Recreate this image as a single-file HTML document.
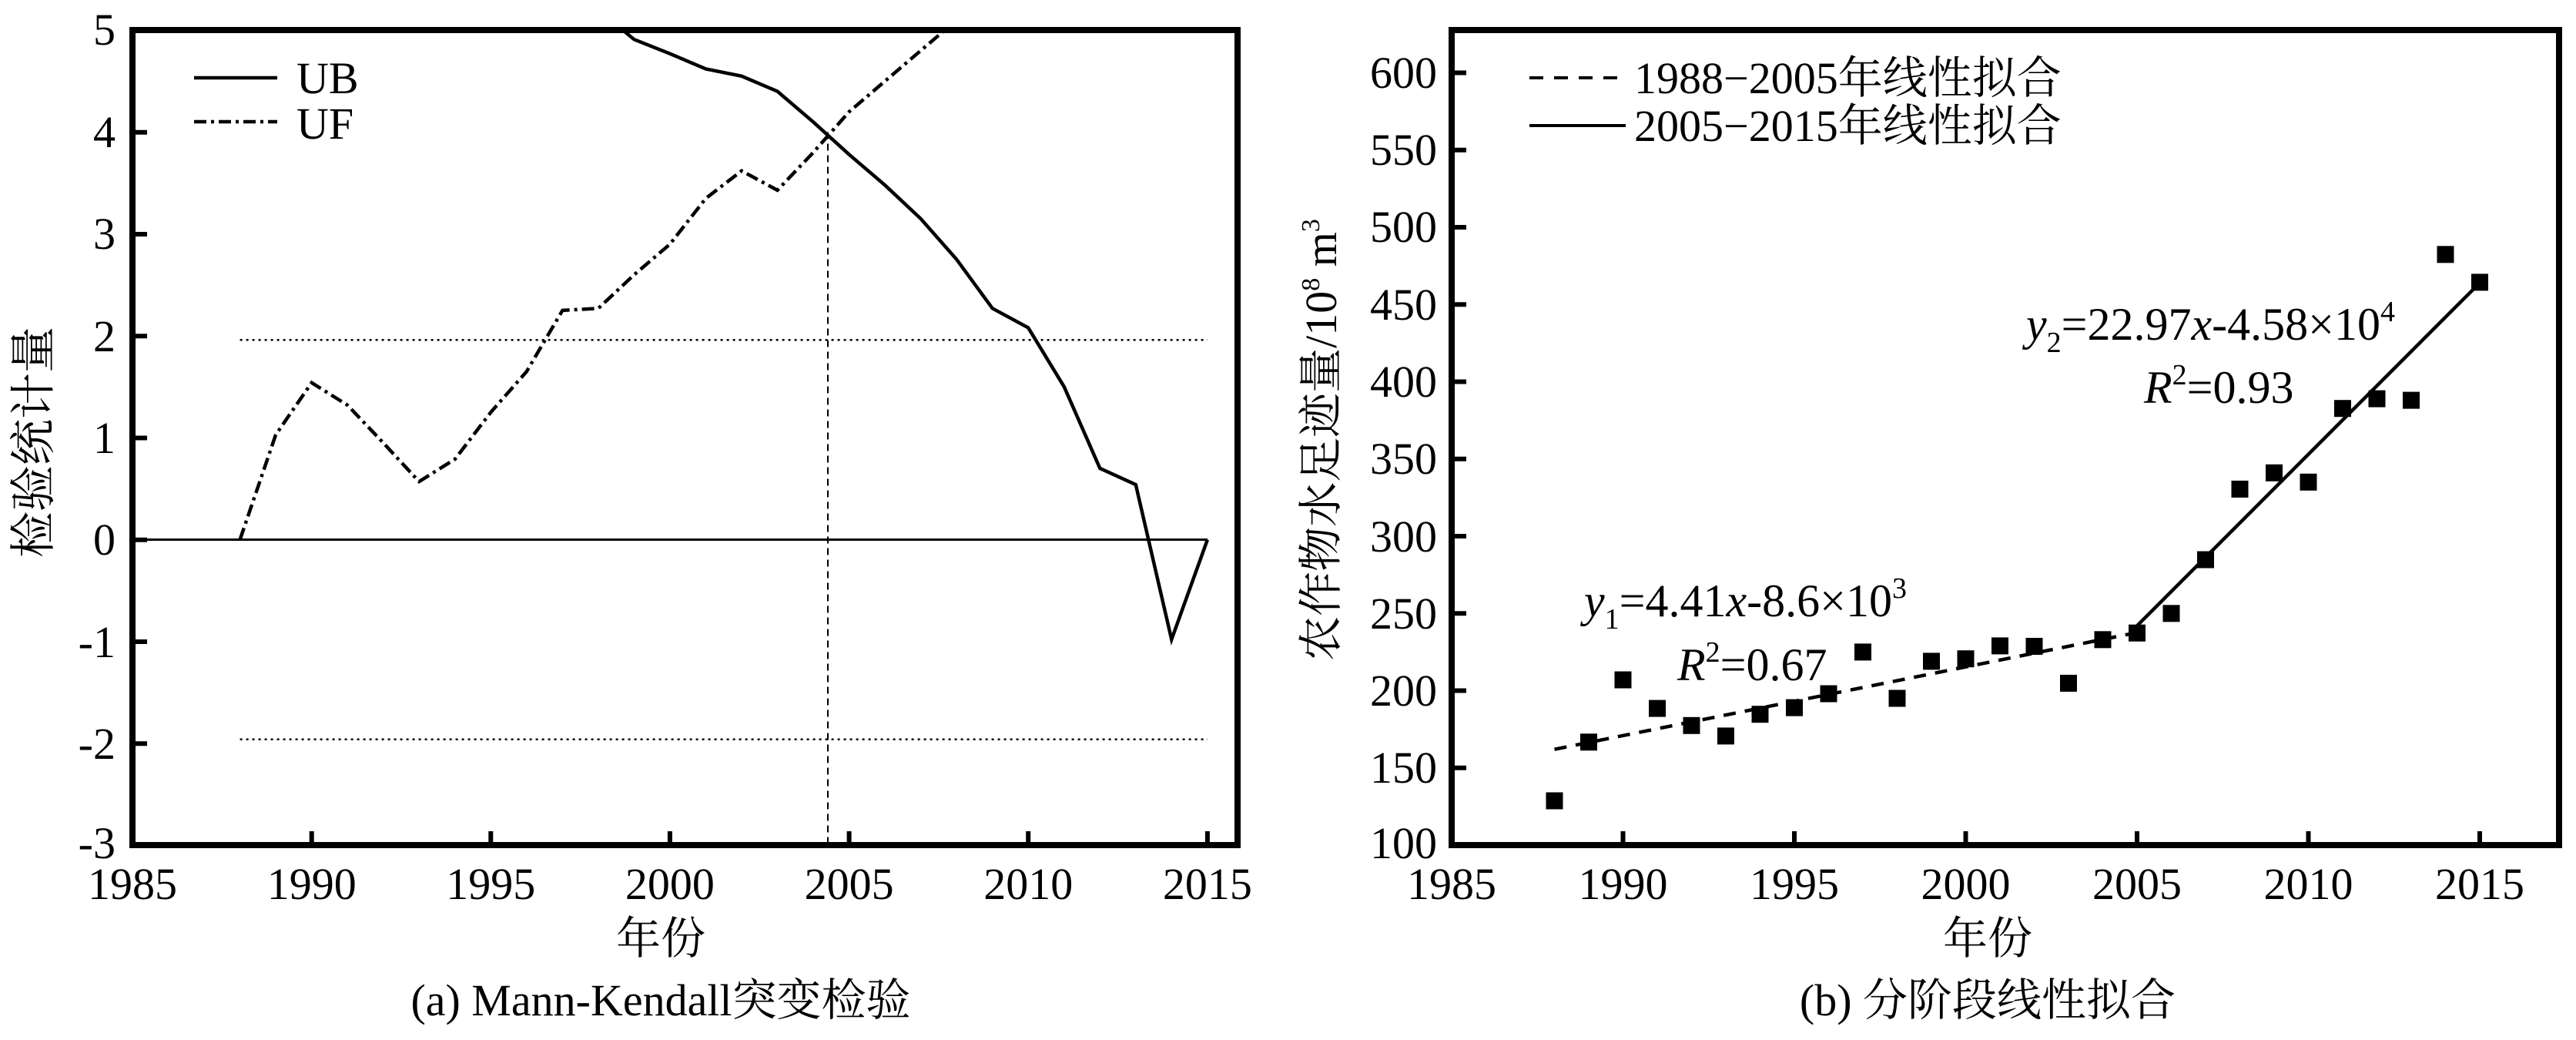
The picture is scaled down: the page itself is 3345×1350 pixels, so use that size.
<!DOCTYPE html>
<html><head><meta charset="utf-8"><style>
html,body{margin:0;padding:0;background:#fff;}
svg{display:block;}
text{font-family:"Liberation Serif","Noto Serif CJK SC",serif;fill:#000;}
</style></head><body>
<svg width="3345" height="1350" viewBox="0 0 3345 1350" xmlns="http://www.w3.org/2000/svg">
<defs>
<clipPath id="cl"><rect x="172" y="39" width="1435" height="1058"/></clipPath>
</defs>
<!-- ===== LEFT CHART ===== -->
<g stroke="#000" stroke-width="6" fill="none">
<line x1="404.7" y1="1097" x2="404.7" y2="1079"/><line x1="637.3" y1="1097" x2="637.3" y2="1079"/>
<line x1="869.9" y1="1097" x2="869.9" y2="1079"/><line x1="1102.6" y1="1097" x2="1102.6" y2="1079"/>
<line x1="1335.2" y1="1097" x2="1335.2" y2="1079"/><line x1="1567.9" y1="1097" x2="1567.9" y2="1079"/>
<line x1="172" y1="965.25" x2="191" y2="965.25"/><line x1="172" y1="833" x2="191" y2="833"/>
<line x1="172" y1="700.75" x2="191" y2="700.75"/><line x1="172" y1="568.5" x2="191" y2="568.5"/>
<line x1="172" y1="436.25" x2="191" y2="436.25"/><line x1="172" y1="304" x2="191" y2="304"/>
<line x1="172" y1="171.75" x2="191" y2="171.75"/>
</g>
<g clip-path="url(#cl)" fill="none" stroke="#000">
<line x1="172" y1="700.5" x2="1568" y2="700.5" stroke-width="3"/>
<line x1="311.6" y1="441.3" x2="1567.9" y2="441.3" stroke-width="2.5" stroke-dasharray="3,5"/>
<line x1="311.6" y1="959.7" x2="1567.9" y2="959.7" stroke-width="2.5" stroke-dasharray="3,5"/>
<line x1="1075" y1="171.5" x2="1075" y2="1097" stroke-width="2" stroke-dasharray="9,6"/>
<polyline stroke-width="4.5" points="776.9,12.8 823.4,51.2 869.9,69.7 916.5,89.5 963,98.8 1009.5,118.6 1056,158.3 1102.6,200.6 1149.1,240.3 1195.6,283.9 1242.2,336.8 1288.7,400.3 1335.2,425.4 1381.8,502.1 1428.3,607.9 1474.8,629.1 1521.3,830.1 1567.9,700.5"/>
<polyline stroke-width="4.5" stroke-dasharray="16,6,4,6" points="311.6,700.5 358.1,564.3 404.7,496.8 451.2,525.9 497.7,574.9 544.2,625.1 590.8,596 637.3,535.2 683.8,482.3 730.4,402.9 776.9,400.3 823.4,356.7 869.9,317 916.5,257.5 963,221.8 1009.5,246.9 1056,198 1102.6,145.1 1149.1,105.4 1195.6,65.7 1242.2,26"/>
</g>
<rect x="172" y="39" width="1435" height="1058" fill="none" stroke="#000" stroke-width="8"/>
<line x1="252" y1="101" x2="360" y2="101" stroke="#000" stroke-width="4.5"/>
<line x1="252" y1="158" x2="360" y2="158" stroke="#000" stroke-width="4.5" stroke-dasharray="16,6,4,6"/>
<text x="385" y="121" font-size="58">UB</text>
<text x="385" y="180" font-size="58">UF</text>
<g font-size="58" text-anchor="end">
<text x="150" y="58">5</text><text x="150" y="191">4</text><text x="150" y="323">3</text>
<text x="150" y="456">2</text><text x="150" y="588">1</text><text x="150" y="720">0</text>
<text x="150" y="853">-1</text><text x="150" y="985">-2</text><text x="150" y="1114">-3</text>
</g>
<g font-size="58" text-anchor="middle">
<text x="172" y="1167">1985</text><text x="404.7" y="1167">1990</text><text x="637.3" y="1167">1995</text>
<text x="869.9" y="1167">2000</text><text x="1102.6" y="1167">2005</text><text x="1335.2" y="1167">2010</text>
<text x="1567.9" y="1167">2015</text>
</g>
<text transform="translate(64,574) rotate(-90)" font-size="60" text-anchor="middle">检验统计量</text>
<text x="858" y="1238" font-size="58" text-anchor="middle">年份</text>
<text x="858" y="1318" font-size="58" text-anchor="middle">(a) Mann-Kendall突变检验</text>

<!-- ===== RIGHT CHART ===== -->
<g stroke="#000" stroke-width="6" fill="none">
<line x1="2107.5" y1="1097" x2="2107.5" y2="1079"/><line x1="2330" y1="1097" x2="2330" y2="1079"/>
<line x1="2552.5" y1="1097" x2="2552.5" y2="1079"/><line x1="2775" y1="1097" x2="2775" y2="1079"/>
<line x1="2997.5" y1="1097" x2="2997.5" y2="1079"/><line x1="3220" y1="1097" x2="3220" y2="1079"/>
<line x1="1885" y1="996.75" x2="1904" y2="996.75"/><line x1="1885" y1="896.5" x2="1904" y2="896.5"/>
<line x1="1885" y1="796.25" x2="1904" y2="796.25"/><line x1="1885" y1="696" x2="1904" y2="696"/>
<line x1="1885" y1="595.75" x2="1904" y2="595.75"/><line x1="1885" y1="495.5" x2="1904" y2="495.5"/>
<line x1="1885" y1="395.25" x2="1904" y2="395.25"/><line x1="1885" y1="295" x2="1904" y2="295"/>
<line x1="1885" y1="194.75" x2="1904" y2="194.75"/><line x1="1885" y1="94.5" x2="1904" y2="94.5"/>
</g>
<line x1="2018.5" y1="972.7" x2="2775" y2="821.1" stroke="#000" stroke-width="4.5" stroke-dasharray="16,12"/>
<line x1="2775" y1="812.3" x2="3220" y2="367.2" stroke="#000" stroke-width="4.5"/>
<g fill="#000">
<rect x="2007.5" y="1028.5" width="22" height="22"/><rect x="2052" y="952.3" width="22" height="22"/>
<rect x="2096.5" y="871.5" width="22" height="22"/><rect x="2141" y="908.6" width="22" height="22"/>
<rect x="2185.5" y="930.8" width="22" height="22"/><rect x="2230" y="944.4" width="22" height="22"/>
<rect x="2274.5" y="916.2" width="22" height="22"/><rect x="2319" y="907.6" width="22" height="22"/>
<rect x="2363.5" y="889.5" width="22" height="22"/><rect x="2408" y="835.4" width="22" height="22"/>
<rect x="2452.5" y="895.5" width="22" height="22"/><rect x="2497" y="847.4" width="22" height="22"/>
<rect x="2541.5" y="844.2" width="22" height="22"/><rect x="2586" y="827.4" width="22" height="22"/>
<rect x="2630.5" y="828" width="22" height="22"/><rect x="2675" y="875.9" width="22" height="22"/>
<rect x="2719.5" y="819.3" width="22" height="22"/><rect x="2764" y="810.7" width="22" height="22"/>
<rect x="2808.5" y="785.3" width="22" height="22"/><rect x="2853" y="715.5" width="22" height="22"/>
<rect x="2897.5" y="623.9" width="22" height="22"/><rect x="2942" y="602.8" width="22" height="22"/>
<rect x="2986.5" y="614.8" width="22" height="22"/><rect x="3031" y="519.2" width="22" height="22"/>
<rect x="3075.5" y="506.6" width="22" height="22"/><rect x="3120" y="508.6" width="22" height="22"/>
<rect x="3164.5" y="319.3" width="22" height="22"/><rect x="3209" y="355.4" width="22" height="22"/>
</g>
<rect x="1885" y="39" width="1438" height="1058" fill="none" stroke="#000" stroke-width="8"/>
<line x1="1986" y1="101" x2="2111" y2="101" stroke="#000" stroke-width="4" stroke-dasharray="18,14"/>
<line x1="1986" y1="163" x2="2111" y2="163" stroke="#000" stroke-width="4"/>
<text x="2122" y="121" font-size="58">1988−2005年线性拟合</text>
<text x="2122" y="183" font-size="58">2005−2015年线性拟合</text>
<g font-size="60">
<text x="2057" y="800"><tspan font-style="italic">y</tspan><tspan font-size="38" dy="16">1</tspan><tspan dy="-16">=4.41</tspan><tspan font-style="italic">x</tspan>-8.6×10<tspan font-size="38" dy="-24">3</tspan></text>
<text x="2178" y="883"><tspan font-style="italic">R</tspan><tspan font-size="38" dy="-24">2</tspan><tspan dy="24">=0.67</tspan></text>
<text x="2631" y="441"><tspan font-style="italic">y</tspan><tspan font-size="38" dy="16">2</tspan><tspan dy="-16">=22.97</tspan><tspan font-style="italic">x</tspan>-4.58×10<tspan font-size="38" dy="-24">4</tspan></text>
<text x="2784" y="523"><tspan font-style="italic">R</tspan><tspan font-size="38" dy="-24">2</tspan><tspan dy="24">=0.93</tspan></text>
</g>
<g font-size="58" text-anchor="end">
<text x="1866" y="1114">100</text><text x="1866" y="1016">150</text><text x="1866" y="916">200</text>
<text x="1866" y="816">250</text><text x="1866" y="716">300</text><text x="1866" y="615">350</text>
<text x="1866" y="515">400</text><text x="1866" y="415">450</text><text x="1866" y="314">500</text>
<text x="1866" y="214">550</text><text x="1866" y="114">600</text>
</g>
<g font-size="58" text-anchor="middle">
<text x="1885" y="1167">1985</text><text x="2107.5" y="1167">1990</text><text x="2330" y="1167">1995</text>
<text x="2552.5" y="1167">2000</text><text x="2775" y="1167">2005</text><text x="2997.5" y="1167">2010</text>
<text x="3220" y="1167">2015</text>
</g>
<text transform="translate(1735,571) rotate(-90)" font-size="58" text-anchor="middle">农作物水足迹量/10<tspan font-size="34" dy="-22">8</tspan><tspan dy="22"> m</tspan><tspan font-size="34" dy="-22">3</tspan></text>
<text x="2581" y="1238" font-size="58" text-anchor="middle">年份</text>
<text x="2581" y="1318" font-size="58" text-anchor="middle">(b) 分阶段线性拟合</text>
</svg>
</body></html>
